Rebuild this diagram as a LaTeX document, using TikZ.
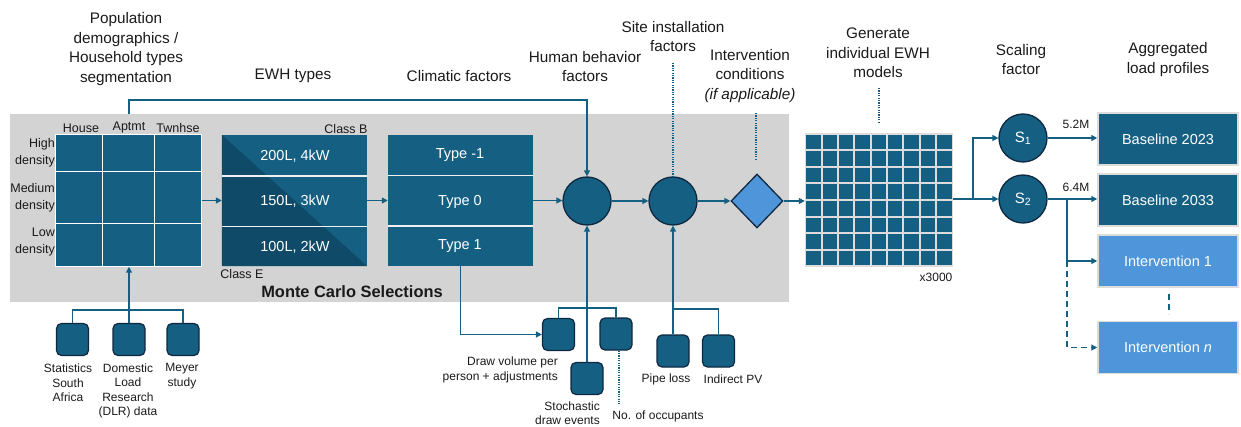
\documentclass[tikz,border=0pt]{standalone}
\usepackage{fontspec}
\setmainfont{Liberation Sans}
\usetikzlibrary{arrows.meta,shapes.geometric,calc}
\definecolor{acc}{HTML}{156082}
\definecolor{dk}{HTML}{0E2841}
\definecolor{lb}{HTML}{4E95D9}
\definecolor{bgg}{HTML}{D3D3D3}
\definecolor{dkr}{HTML}{0F4B68}
\definecolor{gbg}{HTML}{DCDCDC}
\definecolor{txt}{HTML}{1A1A1A}
\begin{document}
\begin{tikzpicture}[x=1pt,y=-1pt,
  toplbl/.style={font=\fontsize{15.3}{19.5}\selectfont, align=center, inner sep=0, text=txt},
  botlbl/.style={font=\fontsize{12}{14.3}\selectfont, align=center, inner sep=0, text=txt},
  smlbl/.style={font=\fontsize{12.5}{17}\selectfont, inner sep=0, text=txt},
  boxtxt/.style={font=\fontsize{14.5}{17}\selectfont, inner sep=0, text=white},
  panel/.style={rectangle, fill=acc, inner sep=0},
  circ/.style={circle, minimum size=48pt, fill=acc, draw=dk, line width=1.3pt, inner sep=0, text=white, font=\fontsize{15}{17}\selectfont},
  sq/.style={rectangle, rounded corners=5pt, minimum width=32pt, minimum height=32pt, fill=acc, draw=dk, line width=1.2pt, inner sep=0},
  rbox/.style={rectangle, minimum width=140pt, minimum height=52pt, fill=acc, draw=gbg, line width=1.5pt, inner sep=0, text=white, font=\fontsize{14.5}{17}\selectfont},
  ln/.style={draw=acc, line width=1.4pt},
  arr/.style={draw=acc, line width=1.4pt, -{Triangle[length=6pt,width=6pt]}},
  dotln/.style={draw=acc, line width=1.4pt, dash pattern=on 1.2pt off 1.2pt},
  dashln/.style={draw=acc, line width=1.4pt, dash pattern=on 6pt off 4pt}
]
\useasboundingbox (0,0) rectangle (1241,427);
% grey background
\fill[bgg] (10,114) rectangle (789,302);
\node[font=\bfseries\fontsize{16.4}{18}\selectfont, inner sep=0, text=txt] (mc) at (352,292) {Monte Carlo Selections};

% household grid
\node[panel, minimum width=146pt, minimum height=132pt] (hh) at (128.5,200.5) {};
\foreach \x in {102.5,154.5} \draw[white, line width=1.6pt] (\x,134.5) -- (\x,266.5);
\foreach \y in {171.5,223.5} \draw[white, line width=1.6pt] (55.5,\y) -- (201.5,\y);
\draw[white, line width=1pt] (hh.north west) rectangle (hh.south east);
\node[smlbl] (hc1) at (81,128) {House};
\node[smlbl] (hc2) at (129,128) {Aptmt};
\node[smlbl] (hc3) at (178,128) {Twnhse};
\node[smlbl, align=right, anchor=east] (hr1) at (55,152.5) {High\\density};
\node[smlbl, align=right, anchor=east] (hr2) at (55,197.5) {Medium\\density};
\node[smlbl, align=right, anchor=east] (hr3) at (55,242) {Low\\density};

% EWH types
\node[panel, minimum width=145pt, minimum height=131pt] (ewh) at (294.5,200.5) {};
\fill[dkr] (ewh.north west) -- (ewh.south east) -- (ewh.south west) -- cycle;
\foreach \y in {176,226.5} \draw[white!88!gray, line width=1.8pt] (222,\y) -- (367,\y);
\node[boxtxt] (e1) at (295,156) {200L, 4kW};
\node[boxtxt] (e2) at (295,201) {150L, 3kW};
\node[boxtxt] (e3) at (295,247) {100L, 2kW};
\node[smlbl] (cb) at (346,129) {Class B};
\node[smlbl] (ce) at (242,274) {Class E};

% climatic
\node[panel, minimum width=145pt, minimum height=131pt] (clim) at (460.5,200.5) {};
\foreach \y in {175.5,226} \draw[white!88!gray, line width=1.8pt] (388,\y) -- (533,\y);
\node[boxtxt] (t1) at (460,155) {Type -1};
\node[boxtxt] (t2) at (460,202) {Type 0};
\node[boxtxt] (t3) at (460,246) {Type 1};

% circles and diamond
\node[circ] (c1) at (587,201) {};
\node[circ] (c2) at (673,201) {};
\node[diamond, minimum width=52pt, minimum height=54pt, fill=lb, draw=dk, line width=1.3pt, inner sep=0] (dia) at (757,201) {};

% big grid
\node[rectangle, fill=gbg, minimum width=148pt, minimum height=134pt, inner sep=0] (grid) at (879,200) {};
\foreach \i in {0,...,8} \foreach \j in {0,...,7}
  \fill[acc] ({806.3+\i*16.35},{134.6+\j*16.6}) rectangle ++(14.4,14.6);
\node[smlbl, font=\fontsize{12}{14}\selectfont] (x3) at (936,277) {x3000};

% scaling circles
\node[circ] (s1) at (1023,138) {S\textsubscript{1}};
\node[circ] (s2) at (1023,199) {S\textsubscript{2}};

% right boxes
\node[rbox] (b23) at (1168,139) {Baseline 2023};
\node[rbox] (b33) at (1168,200) {Baseline 2033};
\node[rbox, fill=lb] (i1) at (1168,261) {Intervention 1};
\node[rbox, fill=lb] (in) at (1168,347.5) {Intervention \textit{n}};
\node[smlbl, font=\fontsize{12}{14}\selectfont] (m1) at (1076,124) {5.2M};
\node[smlbl, font=\fontsize{12}{14}\selectfont] (m2) at (1076,187) {6.4M};

% main flow arrows
\draw[arr] (hh.east) -- (ewh.west);
\draw[arr] (ewh.east) -- (clim.west);
\draw[arr] (clim.east) -- (clim.east -| c1.west);
\draw[arr] (c1.east) -- (c2.west);
\draw[arr] (c2.east) -- (dia.west);
\draw[arr] (dia.east) -- (dia.east -| grid.west);
\coordinate (br) at (973,199);
\draw[ln] (grid.east |- br) -- (br);
\draw[arr] (br) -- (s2.west);
\draw[arr] (br) |- (s1.west);
\draw[arr] (s1.east) -- (s1.east -| b23.west);
\draw[arr] (s2.east) -- (s2.east -| b33.west);
\coordinate (jn) at (1067,199);
\draw[arr] (jn) |- (i1.west);
\draw[dashln, -{Triangle[length=6pt,width=6pt]}] (i1.west -| jn) |- (in.west);
\draw[dashln] ($(i1.south)+(1,6)$) -- ($(in.north)+(1,-7)$);

% top feedback line
\coordinate (ts) at (129,114);
\coordinate (tc) at (129,100);
\draw[arr] (ts) -- (tc) -| (c1.north);

% dotted lines
\coordinate (d1) at (673,63);
\draw[dotln] (d1) -- (c2.north);
\coordinate (d2a) at (756,113);
\coordinate (d2b) at (756,159);
\draw[dotln] (d2a) -- (d2b);
\coordinate (d3a) at (879,88);
\coordinate (d3b) at (879,123);
\draw[dotln] (d3a) -- (d3b);

% data sources
\node[sq] (src1) at (72.5,339.5) {};
\node[sq] (src2) at (129,339.5) {};
\node[sq] (src3) at (183,339.5) {};
\coordinate (jl) at (129,310);
\draw[arr] (src2.north) -- (src2.north |- hh.south);
\draw[ln] (src1.north) |- (jl) -| (src3.north);
\node[botlbl] (l1) at (68,383) {Statistics\\South\\Africa};
\node[botlbl] (l2) at (128,391) {Domestic\\Load\\Research\\(DLR) data};
\node[botlbl] (l3) at (182,376) {Meyer\\study};

% human behaviour inputs
\node[sq] (dv) at (558.5,334.5) {};
\node[sq] (occ) at (616,334) {};
\node[sq] (stoch) at (587,378.5) {};
\coordinate (jh) at (587,308);
\draw[arr] (stoch.north) -- (c1.south);
\draw[ln] (dv.north) |- (jh) -| (occ.north);
\draw[arr] (clim.south) |- (dv.west);
\coordinate (od) at (619,404);
\draw[dotln] (occ.south -| od) -- (od);
\node[botlbl, align=right, anchor=east] (l4) at (558,370) {Draw volume per\\person + adjustments};
\node[botlbl, align=right, anchor=east] (l5) at (600,413.5) {Stochastic\\draw events};
\node[botlbl] (l6) at (658,416) {No. of occupants};

% site installation inputs
\node[sq] (pipe) at (673,351) {};
\node[sq] (ipv) at (718.5,351) {};
\coordinate (js) at (673,309);
\draw[arr] (pipe.north) -- (c2.south);
\draw[ln] (js) -| (ipv.north);
\node[botlbl] (l7) at (666,379) {Pipe loss};
\node[botlbl] (l8) at (733,379) {Indirect PV};

% top labels
\node[toplbl] (h1) at (126,49) {Population\\demographics /\\Household types\\segmentation};
\node[toplbl] (h2) at (293,76) {EWH types};
\node[toplbl] (h3) at (459,76) {Climatic factors};
\node[toplbl] (h4) at (585,66.5) {Human behavior\\factors};
\node[toplbl] (h5) at (673,36.5) {Site installation\\factors};
\node[toplbl] (h6) at (750,76) {Intervention\\conditions\\\textit{(if applicable)}};
\node[toplbl] (h7) at (878,53) {Generate\\individual EWH\\models};
\node[toplbl] (h8) at (1021,59.5) {Scaling\\factor};
\node[toplbl] (h9) at (1168,59.5) {Aggregated\\load profiles};
\end{tikzpicture}
\end{document}
